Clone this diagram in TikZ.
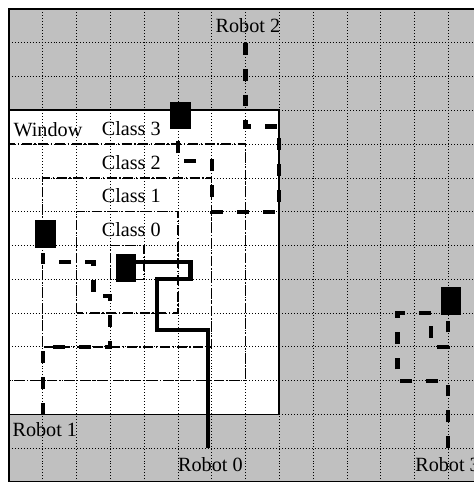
\documentclass[tikz,border=0pt]{standalone}
\usepackage{fontspec}
\setmainfont{Liberation Serif}
\definecolor{field}{RGB}{192,192,192}
\begin{document}
\begin{tikzpicture}[
  x=1cm, y=1cm,
  gridline/.style={black, line width=0.6pt, dash pattern=on 0.6pt off 1.9pt},
  classbox/.style={line width=1.1pt, dash pattern=on 8.4pt off 2.2pt on 1.2pt off 2.2pt},
  plan/.style={line width=3.5pt, dash pattern=on 10pt off 11.8pt},
  route/.style={line width=3.5pt, line join=miter},
  robot/.style={fill=black, inner sep=0pt, minimum width=0.6cm, minimum height=0.82cm},
  lbl/.style={font=\fontsize{17}{20}\selectfont, inner sep=0pt, anchor=base},
]
\useasboundingbox (-0.266,0) rectangle (13.763,14.266);

% workspace and window
\fill[field] (0,0) rectangle (14,14);
\fill[white] (0,2) rectangle (8,11);
\draw[gridline] (0,0) grid (14,14);

% nested class regions
\draw[classbox] (0,3) rectangle (7,10);
\draw[classbox] (1,4) rectangle (6,9);
\draw[classbox] (2,5) rectangle (5,8);
\draw[classbox] (3,6) rectangle (4,7);

\draw[line width=1.5pt] (0,2) rectangle (8,11);
\draw[line width=1.8pt] (0,0) rectangle (14,14);

% text
\node[lbl, anchor=base west] (win) at (0.13,10.23) {Window};
\node[lbl, anchor=base west] (c3) at (2.74,10.25) {Class 3};
\node[lbl, anchor=base west] (c2) at (2.74,9.25) {Class 2};
\node[lbl, anchor=base west] (c1) at (2.74,8.27) {Class 1};
\node[lbl, anchor=base west] (c0) at (2.74,7.27) {Class 0};

\node[lbl] (l0) at (5.96,0.31) {Robot 0};
\node[lbl] (l1) at (1.06,1.35) {Robot 1};
\node[lbl] (l2) at (7.07,13.31) {Robot 2};
\node[lbl] (l3) at (12.98,0.32) {Robot 3};

% robots
\node[robot] (r0) at (3.455,6.335) {};
\node[robot] (r1) at (1.08,7.35) {};
\node[robot] (r2) at (5.08,10.85) {};
\node[robot] (r3) at (13.09,5.35) {};

% path starts
\coordinate (s0) at (5.89,1.0);
\coordinate (s1) at (1,2);
\coordinate (s2) at (7,13);
\coordinate (s3) at (13,1);

% trajectories
\draw[route] (s0) -- (5.89,4.51) -- (4.39,4.51) -- (4.39,6) -- (5.37,6) -- (5.37,6.5) -- (r0.east |- 0,6.5);
\draw[plan] (s1) -- (1,4) -- (3,4) -- (3,5.5) -- (2.5,5.5) -- (2.5,6.5) -- (1,6.5) -- (r1.south -| 1,0);
\draw[plan] (s2) -- (7,10.52) -- (8,10.52) -- (8,8) -- (6,8) -- (6,9.5) -- (5,9.5) -- (r2.south -| 5,0);
\draw[plan] (s3) -- (13,3) -- (11.5,3) -- (11.5,5) -- (12.5,5) -- (12.5,4) -- (13,4) -- (r3.south -| 13,0);
\end{tikzpicture}
\end{document}
